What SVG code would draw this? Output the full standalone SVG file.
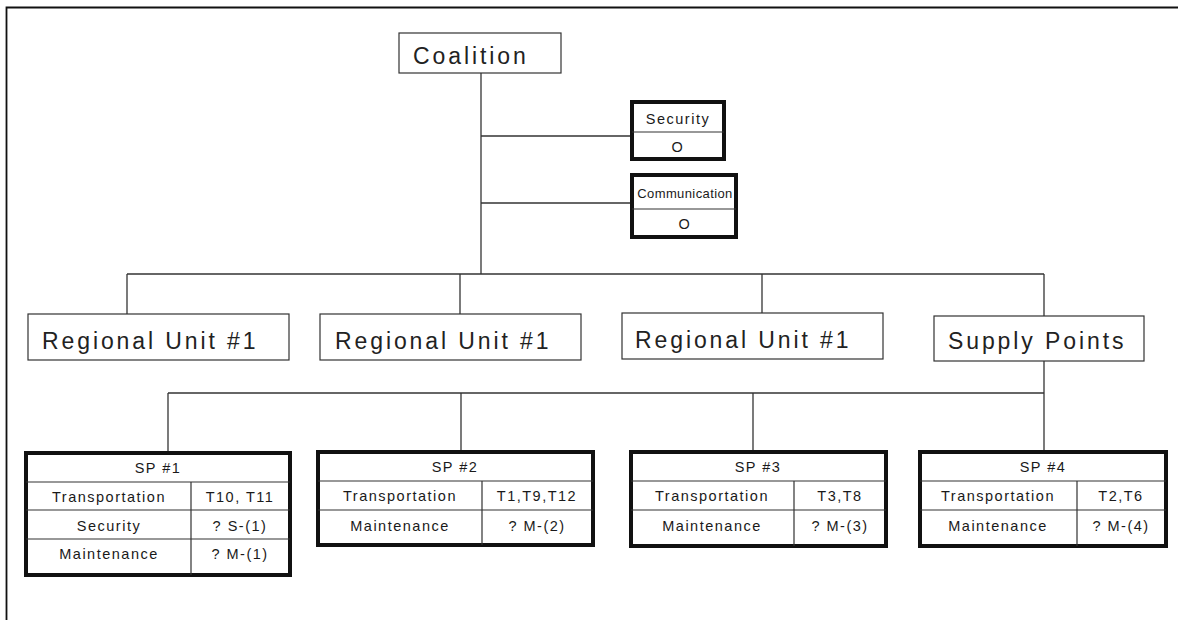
<svg xmlns="http://www.w3.org/2000/svg" width="1178" height="620" viewBox="0 0 1178 620">
  <style>
    .big { font-family: "Liberation Sans", Arial, sans-serif; font-size: 23px; letter-spacing: 2.9px; fill: #222222; }
    .sm { font-family: "Liberation Sans", Arial, sans-serif; font-size: 14.5px; letter-spacing: 1.5px; fill: #1a1a1a; text-anchor: middle; }
    .box { fill: #ffffff; stroke: #333333; stroke-width: 1.2; }
    .tbl { fill: #ffffff; stroke: #111111; stroke-width: 4; }
    .grid { stroke: #333333; stroke-width: 1.2; fill: none; }
    .wire { stroke: #333333; stroke-width: 1.3; fill: none; }
  </style>
  <rect width="1178" height="620" fill="#ffffff"/>
  <!-- page frame -->
  <path d="M6.5 620 V7.5 H1178" fill="none" stroke="#111111" stroke-width="1.8"/>

  <g id="connectors" class="wire">
    <path d="M481 73 V274"/>
    <path d="M481 136 H630"/>
    <path d="M481 203 H630"/>
    <path d="M127 274 H1044"/>
    <path d="M127 274 V314"/>
    <path d="M460 274 V314"/>
    <path d="M762 274 V313"/>
    <path d="M1044 274 V316"/>
    <path d="M1044 361 V393"/>
    <path d="M168 393 H1044"/>
    <path d="M168 393 V451"/>
    <path d="M461 393 V450"/>
    <path d="M753 393 V450"/>
    <path d="M1044 393 V450"/>
  </g>

  <g id="coalition">
    <rect class="box" x="399" y="33" width="162" height="40"/>
    <text class="big" x="413" y="64">Coalition</text>
  </g>

  <g id="security">
    <rect class="tbl" x="632" y="102" width="92" height="57"/>
    <path class="grid" d="M632 132 H724"/>
    <text class="sm" x="678" y="124">Security</text>
    <text class="sm" x="678" y="152">O</text>
  </g>

  <g id="communication">
    <rect class="tbl" x="632" y="175" width="104" height="62"/>
    <path class="grid" d="M632 209 H736"/>
    <text class="sm" x="685" y="198" style="font-size:13px;letter-spacing:0.4px">Communication</text>
    <text class="sm" x="685" y="229">O</text>
  </g>

  <g id="regional-unit-a">
    <rect class="box" x="28" y="314" width="261" height="46"/>
    <text class="big" x="42" y="349">Regional Unit #1</text>
  </g>
  <g id="regional-unit-b">
    <rect class="box" x="320" y="314" width="261" height="46"/>
    <text class="big" x="335" y="349">Regional Unit #1</text>
  </g>
  <g id="regional-unit-c">
    <rect class="box" x="622" y="313" width="261" height="46"/>
    <text class="big" x="635" y="348">Regional Unit #1</text>
  </g>
  <g id="supply-points">
    <rect class="box" x="934" y="316" width="210" height="45"/>
    <text class="big" x="948" y="349">Supply Points</text>
  </g>

  <g id="sp1">
    <rect class="tbl" x="26" y="453" width="264" height="122"/>
    <path class="grid" d="M26 482 H290 M26 510 H290 M26 539 H290 M191 482 V575"/>
    <text class="sm" x="158" y="473">SP #1</text>
    <text class="sm" x="109" y="502">Transportation</text>
    <text class="sm" x="240" y="502">T10, T11</text>
    <text class="sm" x="109" y="531">Security</text>
    <text class="sm" x="240" y="531">? S-(1)</text>
    <text class="sm" x="109" y="559">Maintenance</text>
    <text class="sm" x="240" y="559">? M-(1)</text>
  </g>

  <g id="sp2">
    <rect class="tbl" x="318" y="452" width="275" height="93"/>
    <path class="grid" d="M318 481 H593 M318 510 H593 M482 481 V545"/>
    <text class="sm" x="455" y="472">SP #2</text>
    <text class="sm" x="400" y="501">Transportation</text>
    <text class="sm" x="537" y="501">T1,T9,T12</text>
    <text class="sm" x="400" y="531">Maintenance</text>
    <text class="sm" x="537" y="531">? M-(2)</text>
  </g>

  <g id="sp3">
    <rect class="tbl" x="631" y="452" width="255" height="94"/>
    <path class="grid" d="M631 481 H886 M631 510 H886 M794 481 V546"/>
    <text class="sm" x="758" y="472">SP #3</text>
    <text class="sm" x="712" y="501">Transportation</text>
    <text class="sm" x="840" y="501">T3,T8</text>
    <text class="sm" x="712" y="531">Maintenance</text>
    <text class="sm" x="840" y="531">? M-(3)</text>
  </g>

  <g id="sp4">
    <rect class="tbl" x="920" y="452" width="246" height="94"/>
    <path class="grid" d="M920 481 H1166 M920 510 H1166 M1077 481 V546"/>
    <text class="sm" x="1043" y="472">SP #4</text>
    <text class="sm" x="998" y="501">Transportation</text>
    <text class="sm" x="1121" y="501">T2,T6</text>
    <text class="sm" x="998" y="531">Maintenance</text>
    <text class="sm" x="1121" y="531">? M-(4)</text>
  </g>
</svg>
